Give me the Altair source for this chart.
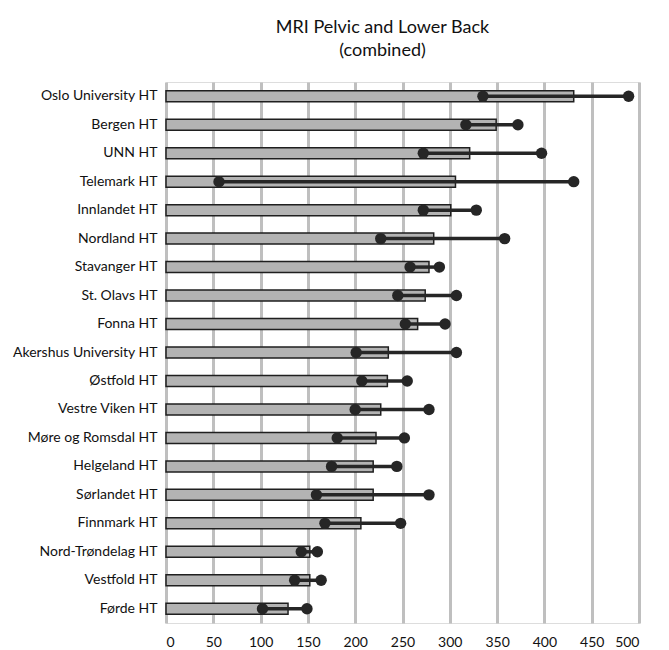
import altair as alt
import pandas as pd

hospitals = ["Oslo University HT", "Bergen HT", "UNN HT", "Telemark HT", "Innlandet HT",
             "Nordland HT", "Stavanger HT", "St. Olavs HT", "Fonna HT", "Akershus University HT",
             "Østfold HT", "Vestre Viken HT", "Møre og Romsdal HT", "Helgeland HT", "Sørlandet HT",
             "Finnmark HT", "Nord-Trøndelag HT", "Vestfold HT", "Førde HT"]
average = [431, 349, 321, 306, 301, 283, 278, 274, 266, 235, 234, 227, 222, 219, 219, 206, 152, 152, 129]
minimum = [335, 317, 272, 56, 272, 227, 258, 245, 253, 201, 207, 200, 181, 175, 159, 168, 143, 136, 102]
maximum = [489, 372, 397, 431, 328, 358, 289, 307, 295, 307, 255, 278, 252, 244, 278, 248, 160, 164, 149]
x_ticks = [0, 50, 100, 150, 200, 250, 300, 350, 400, 450, 500]

df = pd.DataFrame({"hospital": hospitals, "avg": average, "min": minimum, "max": maximum})

FONT = "Lato"
yenc = alt.Y("hospital:N", sort=hospitals, title=None,
             scale=alt.Scale(paddingInner=0, paddingOuter=0),
             axis=alt.Axis(domain=False, ticks=False, labelPadding=9, labelFontSize=14,
                           labelFont=FONT, labelColor="#111111", grid=False))
xenc = alt.X("avg:Q", title=None,
             scale=alt.Scale(domain=[0, 500], nice=False),
             axis=alt.Axis(values=x_ticks, domain=False, ticks=False, grid=True,
                           gridColor="#bfbfbf", gridWidth=3, labelFontSize=14, labelFont=FONT,
                           labelColor="#111111", labelPadding=12))

bars = alt.Chart(df).mark_bar(size=11, color="#b3b3b3", stroke="#1f1f1f", strokeWidth=1.5).encode(
    x=xenc, y=yenc)
rules = alt.Chart(df).mark_rule(color="#262626", strokeWidth=3.5).encode(
    x="min:Q", x2="max:Q", y=alt.Y("hospital:N", sort=hospitals))
pts_min = alt.Chart(df).mark_circle(size=130, color="#262626", opacity=1).encode(
    x="min:Q", y=alt.Y("hospital:N", sort=hospitals))
pts_max = alt.Chart(df).mark_circle(size=130, color="#262626", opacity=1).encode(
    x="max:Q", y=alt.Y("hospital:N", sort=hospitals))

chart = alt.layer(bars, rules, pts_min, pts_max).properties(
    width=473, height=541,
    autosize=alt.AutoSizeParams(type="none"),
    padding={"left": 166, "top": 82, "right": 30, "bottom": 27},
    title=alt.TitleParams(["MRI Pelvic and Lower Back", "(combined)"], font=FONT, fontSize=18,
                          fontWeight="normal", color="#111111", anchor="middle", offset=22,
                          lineHeight=23, dx=-20),
).configure_view(stroke=None).configure(background="white")

chart.save("out.html", embed_options={"renderer": "svg", "actions": False})
